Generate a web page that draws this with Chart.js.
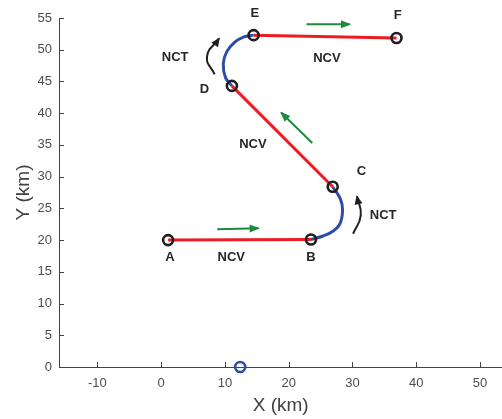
<!DOCTYPE html>
<html>
<head>
<meta charset="utf-8">
<script src="https://cdn.jsdelivr.net/npm/chart.js@4/dist/chart.umd.min.js"></script>
<style>
    html, body { margin: 0; padding: 0; background: #fff; overflow: hidden; }
    /* canvas a little wider than the window so the x axis runs to the edge */
    #wrap { width: 510px; height: 419px; position: relative; }
</style>
</head>
<body>
<div id="wrap"><canvas id="pathChart"></canvas></div>
<script>
// Axis ticks
const xTicks = [-10, 0, 10, 20, 30, 40, 50];
const yTicks = [0, 5, 10, 15, 20, 25, 30, 35, 40, 45, 50, 55];

// Waypoints A..F (km)
const waypointNames = ['A', 'B', 'C', 'D', 'E', 'F'];
const waypointX = [1.1, 23.5, 26.9, 11.1, 14.5, 36.9];
const waypointY = [20.0, 20.1, 28.4, 44.3, 52.3, 51.85];

// Turn arcs (NCT legs), B -> C and D -> E
const turn1X = [23.5, 25.4, 26.8, 28.0, 28.45, 28.1, 26.9];
const turn1Y = [20.1, 20.65, 21.3, 22.5, 24.7, 26.5, 28.4];
const turn2X = [11.1, 10.1, 9.75, 10.3, 11.55, 12.9, 14.5];
const turn2Y = [44.3, 45.6, 47.8, 49.7, 51.2, 52.0, 52.3];

// Start marker on the x axis
const originX = [12.4];
const originY = [0];

// Direction arrows (green, straight)
const dirArrowX = [[8.8, 15.3], [22.8, 29.6], [23.7, 18.8]];
const dirArrowY = [[21.7, 21.85], [54.0, 54.0], [35.3, 40.1]];

// Turn arrows (black, curved)
const turnArrowX = [[30.1, 31.3, 30.7], [8.4, 7.2, 9.1]];
const turnArrowY = [[21.0, 23.9, 26.9], [46.1, 48.9, 51.8]];

// Text labels
const labelText = ['A', 'NCV', 'B', 'C', 'NCT', 'NCV', 'D', 'NCT', 'E', 'NCV', 'F'];
const labelX = [1.4, 11.0, 23.5, 31.4, 34.8, 14.4, 6.8, 2.2, 14.7, 26.0, 37.1];
const labelY = [17.2, 17.2, 17.2, 30.8, 23.9, 35.0, 43.8, 48.8, 55.7, 48.7, 55.4];

const RED = '#ed1c24';
const BLUE = '#2e4ea6';
const GREEN = '#1a8a3e';
const INK = '#1e1e1e';

function pts(xs, ys) {
    return xs.map((x, i) => ({ x: x, y: ys[i] }));
}

function segment(i, j) {
    return [{ x: waypointX[i], y: waypointY[i] }, { x: waypointX[j], y: waypointY[j] }];
}

const datasets = [];

// waypoint markers on top
datasets.push({
    data: pts(waypointX, waypointY),
    showLine: false,
    pointRadius: 5,
    pointBorderWidth: 2.6,
    pointBorderColor: INK,
    pointBackgroundColor: 'rgba(0,0,0,0)',
    order: 0
});
datasets.push({
    data: pts(originX, originY),
    showLine: false,
    pointRadius: 5,
    pointBorderWidth: 2.6,
    pointBorderColor: BLUE,
    pointBackgroundColor: 'rgba(0,0,0,0)',
    clip: false,
    order: 0
});

// straight legs
[[0, 1], [2, 3], [4, 5]].forEach(function(p) {
    datasets.push({
        data: segment(p[0], p[1]),
        showLine: true,
        borderColor: RED,
        borderWidth: 3,
        pointRadius: 0,
        order: 2
    });
});

// turn legs
[[turn1X, turn1Y], [turn2X, turn2Y]].forEach(function(t) {
    datasets.push({
        data: pts(t[0], t[1]),
        showLine: true,
        borderColor: BLUE,
        borderWidth: 3,
        tension: 0.4,
        pointRadius: 0,
        order: 2
    });
});

dirArrowX.forEach(function(xs, i) {
    datasets.push({
        data: pts(xs, dirArrowY[i]),
        showLine: true,
        borderColor: GREEN,
        borderWidth: 2,
        pointRadius: 0,
        arrowHead: { color: GREEN, len: 9, half: 4 },
        order: 3
    });
});

turnArrowX.forEach(function(xs, i) {
    datasets.push({
        data: pts(xs, turnArrowY[i]),
        showLine: true,
        borderColor: INK,
        borderWidth: 2,
        tension: 0.5,
        pointRadius: 0,
        arrowHead: { color: INK, len: 8, half: 4 },
        order: 3
    });
});

// arrow heads at the last point of flagged datasets
const arrowHeads = {
    id: 'arrowHeads',
    afterDatasetsDraw(chart) {
        const ctx = chart.ctx;
        chart.data.datasets.forEach(function(ds, i) {
            if (!ds.arrowHead) return;
            const el = chart.getDatasetMeta(i).data;
            const last = el[el.length - 1];
            const prev = el[el.length - 2];
            let fx = prev.x, fy = prev.y;
            if (ds.tension && last.cp1x !== undefined) {
                fx = last.cp1x; fy = last.cp1y;
            }
            const ang = Math.atan2(last.y - fy, last.x - fx);
            const h = ds.arrowHead;
            ctx.save();
            ctx.translate(last.x, last.y);
            ctx.rotate(ang);
            ctx.fillStyle = h.color;
            ctx.beginPath();
            ctx.moveTo(1, 0);
            ctx.lineTo(-h.len, -h.half);
            ctx.lineTo(-h.len, h.half);
            ctx.closePath();
            ctx.fill();
            ctx.restore();
        });
    }
};

// text labels placed in data coordinates
const textLabels = {
    id: 'textLabels',
    afterDatasetsDraw(chart) {
        const ctx = chart.ctx;
        const xs = chart.scales.x, ys = chart.scales.y;
        ctx.save();
        ctx.font = 'bold 13px "Liberation Sans", Arial, sans-serif';
        ctx.fillStyle = '#262626';
        ctx.textAlign = 'center';
        ctx.textBaseline = 'middle';
        labelText.forEach(function(t, i) {
            ctx.fillText(t, xs.getPixelForValue(labelX[i]), ys.getPixelForValue(labelY[i]));
        });
        ctx.restore();
    }
};

// inward tick marks, matlab style
const inwardTicks = {
    id: 'inwardTicks',
    afterDraw(chart) {
        const ctx = chart.ctx;
        const a = chart.chartArea;
        const xs = chart.scales.x, ys = chart.scales.y;
        ctx.save();
        ctx.strokeStyle = '#444';
        ctx.lineWidth = 1;
        ctx.beginPath();
        xTicks.forEach(function(v) {
            const px = Math.round(xs.getPixelForValue(v)) + 0.5;
            ctx.moveTo(px, a.bottom);
            ctx.lineTo(px, a.bottom - 5);
        });
        yTicks.forEach(function(v) {
            const py = Math.round(ys.getPixelForValue(v)) + 0.5;
            ctx.moveTo(a.left, py);
            ctx.lineTo(a.left + 5, py);
        });
        ctx.stroke();
        ctx.restore();
    }
};

const tickFont = { family: '"Liberation Sans", Arial, sans-serif', size: 13 };
const titleFont = { family: '"Liberation Sans", Arial, sans-serif', size: 19 };

new Chart(document.getElementById('pathChart'), {
    type: 'scatter',
    data: { datasets: datasets },
    plugins: [arrowHeads, textLabels, inwardTicks],
    options: {
        responsive: true,
        maintainAspectRatio: false,
        animation: false,
        layout: { padding: { top: 18, right: 0, left: 0, bottom: 0 } },
        plugins: {
            legend: { display: false },
            tooltip: { enabled: false }
        },
        scales: {
            x: {
                type: 'linear',
                min: -16,
                max: 53.5,
                afterBuildTicks: function(s) { s.ticks = xTicks.map(v => ({ value: v })); },
                afterFit: function(s) { s.height = 52; },
                grid: { display: false, drawTicks: false },
                border: { display: true, color: '#444', width: 1 },
                ticks: { color: '#4d4d4d', font: tickFont, padding: 9, maxRotation: 0 },
                title: { display: true, text: 'X (km)', color: '#404040', font: titleFont, padding: { top: 0, bottom: 2 } }
            },
            y: {
                type: 'linear',
                min: 0,
                max: 55,
                afterBuildTicks: function(s) { s.ticks = yTicks.map(v => ({ value: v })); },
                afterFit: function(s) { s.width = 59; },
                grid: { display: false, drawTicks: false },
                border: { display: true, color: '#444', width: 1 },
                ticks: { color: '#4d4d4d', font: tickFont, padding: 7 },
                title: { display: true, text: 'Y (km)', color: '#404040', font: titleFont, padding: { top: 12, bottom: 0 } }
            }
        }
    }
});
</script>
</body>
</html>
